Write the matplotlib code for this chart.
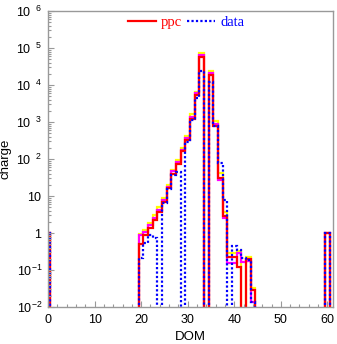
import matplotlib
matplotlib.use('Agg')
import matplotlib.pyplot as plt
import numpy as np
from matplotlib.ticker import MultipleLocator, LogLocator, NullFormatter, FixedLocator, FixedFormatter

# ---- data (charge per DOM bin, bins centred on integer DOM numbers) ----
dom = list(range(61))

ppc = ([1] + [0] * 19 +
       [0.5, 0.9, 1.4, 2.3, 3.8, 7, 16, 40, 75, 160, 330, 1200, 5500, 57000, 0,
        19000, 800, 31, 2.8, 0.22, 0.22, 0.12, 0, 0.2, 0.029] +
       [0] * 15 + [1])

ppc_alt = ([1] + [0] * 19 +
           [0.89, 1.05, 1.6, 2.6, 4.3, 8, 18, 46, 85, 180, 370, 1400, 6000, 65000, 0,
            21000, 900, 27, 2.6, 0.15, 0.15, 0.29, 0.16, 0.17, 0.014] +
           [0] * 15 + [1])

ppc_hi = ([1] + [0] * 19 +
          [0.93, 1.2, 1.9, 3.0, 5, 9, 20, 52, 95, 200, 420, 1600, 6400, 74000, 0,
           24000, 1070, 42, 3.7, 0.29, 0.29, 0.33, 0, 0.23, 0.033] +
          [0] * 15 + [1])

data = ([1] + [0] * 19 +
        [0.21, 0.54, 0.9, 0.75, 0, 6.5, 15, 38, 45, 0, 290, 1100, 4500, 24000, 0,
         12000, 800, 78, 7.8, 0, 0.45, 0.35, 0.21, 0.19, 0.014] +
        [0] * 15 + [1])

ytick_vals = [1e-2, 1e-1, 1, 10, 1e2, 1e3, 1e4, 1e5, 1e6]
ytick_labels = [r'$\mathregular{10^{-2}}$', r'$\mathregular{10^{-1}}$',
                r'$\mathregular{1}\ \ \ \ \,$', r'$\mathregular{10}\ \ \ \ \,$',
                r'$\mathregular{10^{\ \ 2}}$', r'$\mathregular{10^{\ \ 3}}$',
                r'$\mathregular{10^{\ \ 4}}$', r'$\mathregular{10^{\ \ 5}}$',
                r'$\mathregular{10^{\ \ 6}}$']
xticks = [0, 10, 20, 30, 40, 50, 60]

# ---- style ----
plt.rcParams['font.family'] = ['Liberation Sans', 'DejaVu Sans']
plt.rcParams['mathtext.fontset'] = 'custom'
plt.rcParams['mathtext.rm'] = 'Liberation Sans'

fig = plt.figure(figsize=(3.37, 3.44), dpi=100)
ax = fig.add_axes([48 / 337, 1 - 307 / 344, (333 - 48) / 337, (307 - 11) / 344])

edges = np.arange(-0.5, 61.5, 1.0)
floor = 1e-6


def draw(vals, **kw):
    v = np.clip(np.asarray(vals, dtype=float), floor, None)
    ax.stairs(v, edges, baseline=floor, fill=False, **kw)


draw(ppc_hi, color='#ffff00', linewidth=1.6)
draw(ppc_alt, color='#ff00ff', linewidth=1.6)
draw(ppc, color='#ff0000', linewidth=1.6, label='ppc')
draw(data, color='#0000ff', linewidth=1.6, linestyle=(0, (1, 1)), label='data')

ax.set_yscale('log')
ax.set_xlim(0, 61.2)
ax.set_ylim(1e-2, 1e6)

ax.yaxis.set_major_locator(FixedLocator(ytick_vals))
ax.yaxis.set_major_formatter(FixedFormatter(ytick_labels))
ax.yaxis.set_minor_locator(LogLocator(base=10, subs=np.arange(2, 10), numticks=20))
ax.yaxis.set_minor_formatter(NullFormatter())
ax.xaxis.set_major_locator(FixedLocator(xticks))
ax.xaxis.set_minor_locator(MultipleLocator(2))

frame_col = '#999999'
for s in ax.spines.values():
    s.set_color(frame_col)
    s.set_linewidth(1.0)
ax.tick_params(which='both', direction='in', top=False, right=False, color=frame_col,
               labelsize=9, labelcolor='black')
ax.tick_params(which='major', length=4, width=0.8)
ax.tick_params(which='minor', length=2.2, width=0.8)
ax.tick_params(axis='x', pad=5)
ax.tick_params(axis='y', pad=4)

ax.set_xlabel('DOM', fontsize=9.5, labelpad=4)
ax.set_ylabel('charge', fontsize=9.5, labelpad=3)

leg = ax.legend(loc='upper center', bbox_to_anchor=(0.485, 1.028), ncol=2, frameon=False,
                handlelength=1.9, handletextpad=0.35, columnspacing=0.35,
                prop={'family': 'Liberation Serif', 'size': 10.5}, labelcolor='linecolor')

fig.savefig('out.png', dpi=100)
